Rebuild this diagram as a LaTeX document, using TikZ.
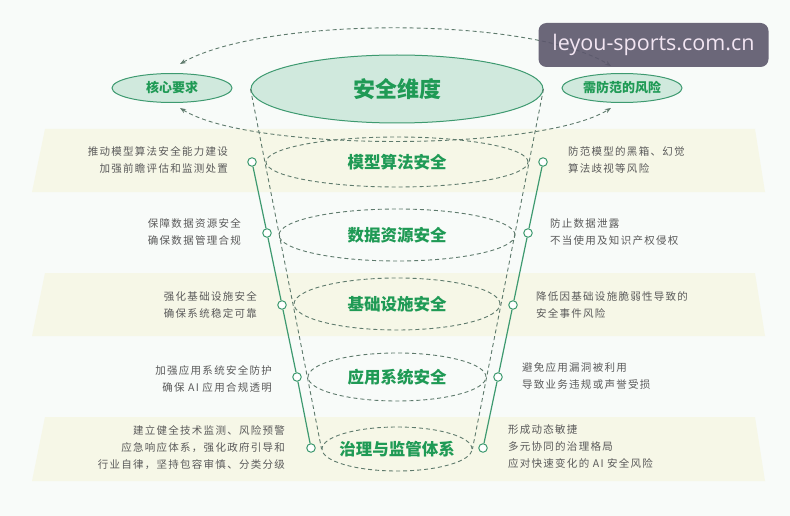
\documentclass[tikz,border=0pt]{standalone}
\usepackage{fontspec}
\setmainfont{Noto Sans CJK SC}
\newfontfamily\descfont[LetterSpace=12]{Noto Sans CJK SC}
\newfontfamily\wmfont{Open Sans}
\usetikzlibrary{shapes.geometric,arrows.meta}
\definecolor{bgc}{HTML}{F8FBF9}
\definecolor{bandc}{HTML}{F6F7E7}
\definecolor{tgreen}{HTML}{1F9A55}
\definecolor{egreen}{HTML}{3E9A70}
\definecolor{efill}{HTML}{D0E9DD}
\definecolor{dashc}{HTML}{5E7A6C}
\definecolor{desc}{HTML}{5A5A5A}
\definecolor{wmc}{HTML}{5C576C}
\begin{document}
\begin{tikzpicture}[x=1pt,y=-1pt,
  solidell/.style={ellipse, draw=egreen, fill=efill, line width=1pt, inner sep=0pt},
  layerell/.style={ellipse, draw=dashc, line width=0.9pt, dash pattern=on 4pt off 3pt, inner sep=0pt},
  title/.style={text=tgreen, font=\fontsize{16.5}{20}\selectfont\bfseries},
  small/.style={text=tgreen, font=\fontsize{13}{16}\selectfont\bfseries},
  dashline/.style={draw=dashc, line width=0.9pt, dash pattern=on 4pt off 3pt},
  dasharc/.style={draw=dashc, line width=0.9pt, dash pattern=on 4pt off 3pt, {Stealth[length=6pt,width=4.5pt]}-{Stealth[length=6pt,width=4.5pt]}},
  dot/.style={circle, draw=egreen, fill=white, line width=1pt, minimum size=8.5pt, inner sep=0pt},
  gline/.style={draw=egreen, line width=1.2pt},
  ldesc/.style={anchor=east, align=right, text=desc, font=\descfont\fontsize{10.5}{17}\selectfont, inner sep=0pt},
  rdesc/.style={anchor=west, align=left, text=desc, font=\descfont\fontsize{10.5}{17}\selectfont, inner sep=0pt},
  band/.style={fill=bandc}
]
\useasboundingbox (0,0) rectangle (790,516);
\fill[bgc] (0,0) rectangle (790,516);
% bands
\fill[band] (45,129) -- (755,129) -- (765,192) -- (32,192) -- cycle;
\fill[band] (45,273) -- (755,273) -- (765,336) -- (32,336) -- cycle;
\fill[band] (45,417) -- (755,417) -- (765,481) -- (32,481) -- cycle;

% layer ellipses
\node[layerell, minimum width=262pt, minimum height=50pt] (m1) at (397,162) {};
\node[layerell, minimum width=236pt, minimum height=52pt] (m2) at (397,235) {};
\node[layerell, minimum width=206pt, minimum height=52pt] (m3) at (397,304) {};
\node[layerell, minimum width=178pt, minimum height=48pt] (m4) at (397,377) {};
\node[layerell, minimum width=150pt, minimum height=44pt] (m5) at (397,449) {};
\node[title] at (m1) {模型算法安全};
\node[title] at (m2) {数据资源安全};
\node[title] at (m3) {基础设施安全};
\node[title] at (m4) {应用系统安全};
\node[title] at (m5) {治理与监管体系};

% top ellipse and side ellipses
\node[solidell, minimum width=292pt, minimum height=68pt] (top) at (397,89) {};
\node[text=tgreen, font=\fontsize{22}{26}\selectfont\bfseries] at (top) {安全维度};
\node[solidell, minimum width=120pt, minimum height=29pt, small] (core) at (172,88) {核心要求};
\node[solidell, minimum width=120pt, minimum height=29pt, small] (risk) at (622,88) {需防范的风险};

% funnel sides
\draw[dashline] (top.west) -- (m5.west);
\draw[dashline] (top.east) -- (m5.east);

% arcs
\coordinate (ca) at (180,64);
\coordinate (cb) at (180,108);
\coordinate (ra) at (611,66);
\coordinate (rb) at (611,108);
\draw[dasharc] (ca) .. controls (265,16) and (530,16) .. (ra);
\draw[dasharc] (cb) .. controls (250,152) and (540,152) .. (rb);

% left line and dots
\node[dot] (l1) at (252,162) {};
\node[dot] (l2) at (267,233) {};
\node[dot] (l3) at (282,305) {};
\node[dot] (l4) at (297,377) {};
\node[dot] (l5) at (311,448) {};
\draw[gline] (l1) -- (l2) -- (l3) -- (l4) -- (l5);
\node[dot] (r1) at (543,162) {};
\node[dot] (r2) at (528,233) {};
\node[dot] (r3) at (513,305) {};
\node[dot] (r4) at (498,377) {};
\node[dot] (r5) at (483,448) {};
\draw[gline] (r1) -- (r2) -- (r3) -- (r4) -- (r5);

% left descriptions
\node[ldesc] (t1) at (228,160) {推动模型算法安全能力建设\\加强前瞻评估和监测处置};
\node[ldesc] (t2) at (241,232) {保障数据资源安全\\确保数据管理合规};
\node[ldesc] (t3) at (257,305) {强化基础设施安全\\确保系统稳定可靠};
\node[ldesc] (t4) at (272,379) {加强应用系统安全防护\\确保 AI 应用合规透明};
\node[ldesc] (t5) at (285,448) {建立健全技术监测、风险预警\\应急响应体系，强化政府引导和\\行业自律，坚持包容审慎、分类分级};

% right descriptions
\node[rdesc] (s1) at (568,160) {防范模型的黑箱、幻觉\\算法歧视等风险};
\node[rdesc] (s2) at (550,232) {防止数据泄露\\不当使用及知识产权侵权};
\node[rdesc] (s3) at (536,305) {降低因基础设施脆弱性导致的\\安全事件风险};
\node[rdesc] (s4) at (522,376) {避免应用漏洞被利用\\导致业务违规或声誉受损};
\node[rdesc] (s5) at (508,447) {形成动态敏捷\\多元协同的治理格局\\应对快速变化的 AI 安全风险};

% watermark
\node[fill=wmc, fill opacity=0.9, text opacity=1, rounded corners=8pt, minimum width=230pt, minimum height=44pt, inner sep=0pt, text=white!90!violet, font=\wmfont\fontsize{21.5}{24}\selectfont] (wm) at (653.5,45) {leyou-sports.com.cn};
\end{tikzpicture}
\end{document}
